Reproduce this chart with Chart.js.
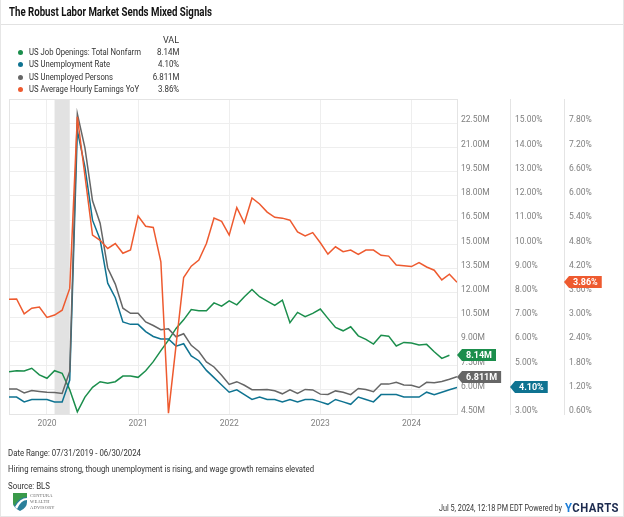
<!DOCTYPE html>
<html><head><meta charset="utf-8">
<script src="https://cdn.jsdelivr.net/npm/chart.js"></script>
<style>
html,body{margin:0;padding:0;background:#fff;}
#wrap{position:relative;width:624px;height:517px;overflow:hidden;font-family:Roboto,sans-serif;color:#222;box-sizing:border-box;border-left:1px solid #e6e6e6;border-right:1px solid #e6e6e6;border-bottom:1px solid #e6e6e6;}
#c{position:absolute;left:0;top:0;}
.t{position:absolute;white-space:nowrap;transform-origin:0 50%;line-height:1;}
.r{transform-origin:100% 50%;text-align:right;}
.dot{position:absolute;width:5px;height:5px;border-radius:50%;}
#rule{position:absolute;left:0;top:24px;width:624px;height:1px;background:#e2e2e2;}
</style></head><body>
<div id="wrap">
<canvas id="c" width="624" height="517"></canvas>
<div class="t" data-w="203" style="left:8px;top:5.5px;font-size:12.5px;font-weight:700;color:#111">The Robust Labor Market Sends Mixed Signals</div>
<div id="rule"></div>
<div class="t r" style="right:444px;top:35.5px;font-size:9px;color:#333">VAL</div>
<div id="legend"></div>
<div class="t" data-w="133" style="left:7px;top:448px;font-size:9.5px;color:#333">Date Range: 07/31/2019 - 06/30/2024</div>
<div class="t" data-w="306" style="left:7px;top:464px;font-size:9.5px;color:#333">Hiring remains strong, though unemployment is rising, and wage growth remains elevated</div>
<div class="t" data-w="42" style="left:7px;top:481px;font-size:9.5px;color:#333">Source: BLS</div>
<svg style="position:absolute;left:11px;top:492px" width="16" height="20" viewBox="0 0 16 20">
  <path d="M1 1 L15 1 L15 10 Q15 16 8 19 Q1 16 1 10 Z" fill="#2a7f9a"/>
  <path d="M1 1 L15 1 L15 5 Q7 5 2 14 Q1 12 1 10 Z" fill="#3a9a4a"/>
  <path d="M3 15 Q8 6 15 6 L15 8 Q9 8 5 17 Z" fill="#ffffff"/>
</svg>
<div class="t" style="left:29px;top:494px;font-size:4.5px;color:#666;font-family:'Liberation Serif',serif;letter-spacing:0.2px">CENTURA</div>
<div class="t" style="left:29px;top:500px;font-size:4.5px;color:#666;font-family:'Liberation Serif',serif;letter-spacing:0.2px">WEALTH</div>
<div class="t" style="left:29px;top:506px;font-size:4.5px;color:#666;font-family:'Liberation Serif',serif;letter-spacing:0.2px">ADVISORY</div>
<div class="t" data-w="123" style="left:438px;top:503.5px;font-size:9px;color:#333">Jul 5, 2024, 12:18 PM EDT Powered by</div>
<div class="t" data-w="54" style="left:564px;top:502px;font-size:12px;font-weight:700;color:#1d2b4f;letter-spacing:0.5px"><span style="color:#1f7fd8">Y</span>CHARTS</div>
</div>
<script>
// ---- data ----
const months = [
 "2019-07","2019-08","2019-09","2019-10","2019-11","2019-12",
 "2020-01","2020-02","2020-03","2020-04","2020-05","2020-06","2020-07","2020-08","2020-09","2020-10","2020-11","2020-12",
 "2021-01","2021-02","2021-03","2021-04","2021-05","2021-06","2021-07","2021-08","2021-09","2021-10","2021-11","2021-12",
 "2022-01","2022-02","2022-03","2022-04","2022-05","2022-06","2022-07","2022-08","2022-09","2022-10","2022-11","2022-12",
 "2023-01","2023-02","2023-03","2023-04","2023-05","2023-06","2023-07","2023-08","2023-09","2023-10","2023-11","2023-12",
 "2024-01","2024-02","2024-03","2024-04","2024-05","2024-06"];
const jobOpenings = [
 7.12,7.18,7.16,7.33,6.92,6.71,
 7.18,7.02,6.00,4.64,5.55,6.15,6.50,6.40,6.50,6.85,6.85,6.77,
 7.18,7.74,8.42,9.07,9.80,10.33,10.97,10.89,10.89,11.38,11.18,11.50,
 11.26,11.76,12.21,11.76,11.49,11.22,11.55,10.15,10.79,10.52,10.73,11.00,
 10.42,9.86,9.65,9.90,9.34,9.12,8.83,9.37,9.32,8.71,8.93,8.89,
 8.77,8.81,8.35,7.94,8.14,null];
const unemploymentRate = [
 3.7,3.7,3.5,3.6,3.6,3.6,
 3.5,3.5,4.4,14.7,13.2,11.0,10.2,8.4,7.8,6.8,6.7,6.7,
 6.4,6.2,6.1,6.1,5.8,5.9,5.4,5.2,4.8,4.5,4.2,3.9,
 4.0,3.8,3.6,3.7,3.6,3.6,3.5,3.6,3.5,3.6,3.6,3.5,
 3.4,3.6,3.5,3.4,3.7,3.6,3.5,3.8,3.8,3.8,3.7,3.7,
 3.7,3.9,3.8,3.9,4.0,4.1];
const unemployedPersons = [
 6.05,6.05,5.80,5.95,5.90,5.85,
 5.83,5.77,7.14,23.08,20.98,17.70,16.31,13.54,12.54,11.05,10.73,10.74,
 10.20,9.98,9.72,9.77,9.28,9.47,8.75,8.37,7.72,7.41,6.90,6.33,
 6.50,6.28,6.00,6.00,6.01,5.94,5.75,5.99,5.77,6.02,5.99,5.73,
 5.71,5.93,5.84,5.70,6.08,6.01,5.88,6.36,6.35,6.46,6.30,6.28,
 6.14,6.46,6.44,6.51,6.65,6.811];
const hourlyEarningsYoY = [
 3.44,3.45,3.08,3.22,3.25,2.99,
 3.05,3.17,3.71,7.96,6.50,5.03,4.90,4.70,4.82,4.58,4.66,5.50,
 5.25,5.22,4.37,0.62,2.30,3.98,4.26,4.41,4.82,5.45,5.37,5.03,
 5.71,5.33,5.95,5.80,5.60,5.47,5.45,5.40,5.11,5.01,5.09,4.84,
 4.56,4.74,4.62,4.66,4.55,4.66,4.66,4.53,4.51,4.29,4.27,4.25,
 4.35,4.24,4.16,3.92,4.06,3.86];
const yearTicks = [2020, 2021, 2022, 2023, 2024];
const millionTicks = [4.5, 6, 7.5, 9, 10.5, 12, 13.5, 15, 16.5, 18, 19.5, 21, 22.5];
const rateTicks = [3, 4, 5, 6, 7, 8, 9, 10, 11, 12, 13, 14, 15];
const earningsTicks = [0.6, 1.2, 1.8, 2.4, 3.0, 3.6, 4.2, 4.8, 5.4, 6.0, 6.6, 7.2, 7.8];
const recession = ["2020-01", "2020-03"];
const seriesNames = ["US Job Openings: Total Nonfarm", "US Unemployment Rate", "US Unemployed Persons", "US Average Hourly Earnings YoY"];
const legendValues = ["8.14M", "4.10%", "6.811M", "3.86%"];

// ---- helpers ----
const COLORS = ['#1b8e4c', '#0f7391', '#666666', '#ee5a2f'];
const toX = s => { const [y, m] = s.split('-').map(Number); return y + m / 12; };
const pts = arr => months.map((m, i) => ({x: toX(m), y: arr[i]}));

// legend
const lg = document.getElementById('legend');
const legendW = [112, 81, 84, 110];
const rowsY = [52.3, 64.3, 77.3, 89.3];
seriesNames.forEach((n, i) => {
  const d = document.createElement('div'); d.className = 'dot';
  d.style.cssText += `left:16.5px;top:${rowsY[i]-2.5}px;background:${COLORS[i]}`;
  lg.appendChild(d);
  const t = document.createElement('div'); t.className = 't'; t.textContent = n;
  t.dataset.w = legendW[i];
  t.style.cssText += `left:28px;top:${rowsY[i]-4.5}px;font-size:9px;color:#333`;
  lg.appendChild(t);
  const v = document.createElement('div'); v.className = 't r'; v.textContent = legendValues[i];
  v.style.cssText += `right:444px;top:${rowsY[i]-4.5}px;font-size:9px;color:#333;transform:scaleX(0.88)`;
  lg.appendChild(v);
});
document.querySelectorAll('[data-w]').forEach(el => {
  const w = el.getBoundingClientRect().width;
  el.style.transform = `scaleX(${el.dataset.w / w})`;
});

const frame = {
  id: 'frame',
  beforeDatasetsDraw(chart) {
    const {ctx, chartArea: a, scales: {x}} = chart;
    ctx.save();
    const x0 = x.getPixelForValue(toX(recession[0])), x1 = x.getPixelForValue(toX(recession[1]));
    ctx.fillStyle = '#e2e2e2';
    ctx.fillRect(x0, a.top, x1 - x0, a.bottom - a.top);
    ctx.strokeStyle = '#e4e4e4'; ctx.lineWidth = 1;
    ctx.strokeRect(Math.round(a.left) + 0.5, Math.round(a.top) + 0.5, Math.round(a.right - a.left), Math.round(a.bottom - a.top));
    ctx.restore();
  }
};
const tags = {
  id: 'tags',
  afterDraw(chart) {
    const ctx = chart.ctx;
    ctx.save();
    chart.data.datasets.forEach(ds => {
      const valid = ds.data.filter(p => p.y != null);
      const last = valid[valid.length - 1];
      const sc = chart.scales[ds.yAxisID];
      const y = Math.round(sc.getPixelForValue(last.y));
      const x = Math.round(sc.left);
      const txt = ds.fmt(last.y);
      ctx.font = 'bold 9px Roboto';
      const w = ctx.measureText(txt).width;
      ctx.fillStyle = ds.borderColor;
      ctx.beginPath();
      ctx.moveTo(x, y); ctx.lineTo(x + 5, y - 6); ctx.lineTo(x + 5 + w + 8, y - 6);
      ctx.lineTo(x + 5 + w + 8, y + 6); ctx.lineTo(x + 5, y + 6); ctx.closePath(); ctx.fill();
      ctx.fillStyle = '#fff'; ctx.textBaseline = 'middle'; ctx.textAlign = 'left';
      ctx.fillText(txt, x + 9, y + 0.5);
    });
    ctx.restore();
  }
};

const tickFont = {family: 'Roboto', size: 8.5};
const tickColor = '#808080';
const rightAxis = (min, max, list, fmt, width, pad, gridOn) => ({
  type: 'linear', position: 'right', min, max,
  afterBuildTicks: s => { s.ticks = list.map(v => ({value: v})); },
  afterFit: s => { s.width = width; },
  grid: {display: true, drawOnChartArea: gridOn, drawTicks: false, color: '#eeeeee'},
  border: {display: true, color: '#e4e4e4'},
  ticks: {font: tickFont, color: tickColor, padding: pad, labelOffset: -3, callback: fmt}
});

new Chart(document.getElementById('c'), {
  type: 'line',
  data: {
    datasets: [
      {label: seriesNames[0], data: pts(jobOpenings), yAxisID: 'yM', borderColor: COLORS[0], order: 3, fmt: v => v.toFixed(2) + 'M'},
      {label: seriesNames[1], data: pts(unemploymentRate), yAxisID: 'yR', borderColor: COLORS[1], order: 2, fmt: v => v.toFixed(2) + '%'},
      {label: seriesNames[2], data: pts(unemployedPersons), yAxisID: 'yM', borderColor: COLORS[2], order: 1, fmt: v => v.toFixed(3) + 'M'},
      {label: seriesNames[3], data: pts(hourlyEarningsYoY), yAxisID: 'yE', borderColor: COLORS[3], order: 0, fmt: v => v.toFixed(2) + '%'}
    ]
  },
  options: {
    responsive: false, animation: false, devicePixelRatio: 1,
    layout: {padding: {left: 8, top: 99, right: 0, bottom: 83}},
    elements: {point: {radius: 0, hoverRadius: 0}, line: {borderWidth: 1.5, tension: 0, fill: false}},
    plugins: {legend: {display: false}, tooltip: {enabled: false}},
    scales: {
      x: {
        type: 'linear', min: toX(months[0]), max: toX(months[months.length - 1]),
        afterBuildTicks: s => { s.ticks = yearTicks.map(v => ({value: v})); },
        afterFit: s => { s.height = 20; },
        grid: {color: '#eeeeee', drawTicks: false},
        border: {display: false},
        ticks: {font: tickFont, color: tickColor, padding: 5, maxRotation: 0, callback: v => String(v)}
      },
      yM: rightAxis(4.5, 24, millionTicks, v => v.toFixed(2) + 'M', 53, 4, true),
      yR: rightAxis(3, 16, rateTicks, v => v.toFixed(2) + '%', 54, 5, false),
      yE: rightAxis(0.6, 8.4, earningsTicks, v => v.toFixed(2) + '%', 61, 5, false)
    }
  },
  plugins: [frame, tags]
});
</script>
</body></html>
